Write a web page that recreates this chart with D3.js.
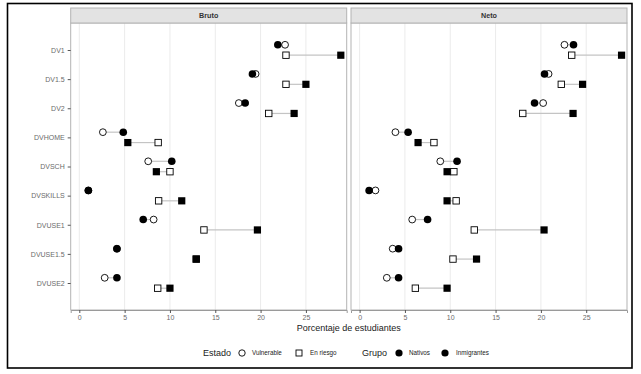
<!DOCTYPE html>
<html lang="es">
<head>
<meta charset="utf-8"/>
<script src="https://d3js.org/d3.v7.min.js"></script>
<style>
  body { margin: 0; background: white; }
  svg { font-family: "Liberation Sans", Arial, sans-serif; }
  .grid { stroke: #ebebeb; stroke-width: 1; }
  .frame { fill: none; stroke: #b3b3b3; stroke-width: 1; }
  .seg { stroke: #c4c4c4; stroke-width: 1.2; }
  .tick-lab { fill: #6b6b6b; font-size: 7px; }
</style>
</head>
<body>
<svg id="chart" width="641" height="374"></svg>
<script>
// categories (top to bottom)
const categories = ["DV1", "DV1.5", "DV2", "DVHOME", "DVSCH", "DVSKILLS", "DVUSE1", "DVUSE1.5", "DVUSE2"];
const panels = ["Bruto", "Neto"];
const xTicks = [0, 5, 10, 15, 20, 25];

// Bruto
const brutoVulnNativos   = [22.7, 19.45, 17.6, 2.6, 7.6, 1.0, 8.2, 4.15, 2.8];
const brutoVulnInmig     = [21.9, 19.1, 18.3, 4.85, 10.2, 1.0, 7.05, 4.15, 4.15];
const brutoRiesgoNativos = [22.8, 22.8, 20.9, 8.7, 10.0, 8.75, 13.75, 12.9, 8.65];
const brutoRiesgoInmig   = [28.85, 25.0, 23.7, 5.35, 8.5, 11.3, 19.65, 12.9, 10.0];

// Neto
const netoVulnNativos   = [22.6, 20.85, 20.25, 3.95, 8.9, 1.75, 5.8, 3.65, 3.0];
const netoVulnInmig     = [23.6, 20.4, 19.3, 5.35, 10.75, 1.05, 7.5, 4.3, 4.3];
const netoRiesgoNativos = [23.4, 22.25, 18.0, 8.2, 10.4, 10.65, 12.65, 10.3, 6.15];
const netoRiesgoInmig   = [28.9, 24.6, 23.55, 6.45, 9.65, 9.65, 20.35, 12.9, 9.65];

const panelData = {
  Bruto: { vn: brutoVulnNativos, vi: brutoVulnInmig, rn: brutoRiesgoNativos, ri: brutoRiesgoInmig },
  Neto:  { vn: netoVulnNativos,  vi: netoVulnInmig,  rn: netoRiesgoNativos,  ri: netoRiesgoInmig }
};

const svg = d3.select("#chart");

// outer black frame
svg.append("rect")
  .attr("x", 7.5).attr("y", 3.5)
  .attr("width", 624.5).attr("height", 364.5)
  .attr("fill", "white").attr("stroke", "black").attr("stroke-width", 1.6);

const panelTop = 23, panelBottom = 310;
const stripTop = 8;
const panelX = { Bruto: [70.7, 346.7], Neto: [351, 627] };

const y = d3.scalePoint().domain(categories).range([50, 283]);
const dy = 5.2;
const r = 3.4, sq = 6.4;

panels.forEach(function(p) {
  const x = d3.scaleLinear().domain([-0.95, 29.5]).range(panelX[p]);
  const g = svg.append("g");
  const d = panelData[p];

  // grid
  g.selectAll(".grid").data(xTicks).enter().append("line")
    .attr("class", "grid")
    .attr("x1", t => x(t)).attr("x2", t => x(t))
    .attr("y1", panelTop).attr("y2", panelBottom);

  // panel border
  g.append("rect").attr("class", "frame")
    .attr("x", panelX[p][0]).attr("y", panelTop)
    .attr("width", panelX[p][1] - panelX[p][0]).attr("height", panelBottom - panelTop);

  // strip
  g.append("rect")
    .attr("x", panelX[p][0]).attr("y", stripTop)
    .attr("width", panelX[p][1] - panelX[p][0]).attr("height", panelTop - stripTop)
    .attr("fill", "#e3e3e3").attr("stroke", "#b3b3b3");
  g.append("text")
    .attr("x", (panelX[p][0] + panelX[p][1]) / 2).attr("y", (stripTop + panelTop) / 2 + 2.5)
    .attr("text-anchor", "middle").attr("font-size", 7.2).attr("font-weight", "bold")
    .attr("fill", "#333").text(p);

  // x axis
  const xAxis = g.append("g").attr("transform", "translate(0," + panelBottom + ")")
    .call(d3.axisBottom(x).tickValues(xTicks).tickSize(3).tickPadding(2));
  xAxis.select(".domain").attr("stroke", "#9a9a9a");
  xAxis.selectAll(".tick line").attr("stroke", "#555");
  xAxis.selectAll(".tick text").attr("class", "tick-lab").attr("font-family", null).attr("font-size", null);

  // segments
  g.selectAll(".segc").data(categories).enter().append("line")
    .attr("class", "seg")
    .attr("x1", (c, i) => x(d.vn[i])).attr("x2", (c, i) => x(d.vi[i]))
    .attr("y1", c => y(c) - dy).attr("y2", c => y(c) - dy);
  g.selectAll(".segs").data(categories).enter().append("line")
    .attr("class", "seg")
    .attr("x1", (c, i) => x(d.rn[i])).attr("x2", (c, i) => x(d.ri[i]))
    .attr("y1", c => y(c) + dy).attr("y2", c => y(c) + dy);

  // open points (Nativos)
  g.selectAll(".oc").data(categories).enter().append("circle")
    .attr("cx", (c, i) => x(d.vn[i])).attr("cy", c => y(c) - dy).attr("r", r)
    .attr("fill", "white").attr("stroke", "black").attr("stroke-width", 0.9);
  g.selectAll(".os").data(categories).enter().append("rect")
    .attr("x", (c, i) => x(d.rn[i]) - sq / 2).attr("y", c => y(c) + dy - sq / 2)
    .attr("width", sq).attr("height", sq)
    .attr("fill", "white").attr("stroke", "black").attr("stroke-width", 0.9);

  // filled points (Inmigrantes)
  g.selectAll(".fc").data(categories).enter().append("circle")
    .attr("cx", (c, i) => x(d.vi[i])).attr("cy", c => y(c) - dy).attr("r", r + 0.4)
    .attr("fill", "black");
  g.selectAll(".fs").data(categories).enter().append("rect")
    .attr("x", (c, i) => x(d.ri[i]) - sq / 2 - 0.4).attr("y", c => y(c) + dy - sq / 2 - 0.4)
    .attr("width", sq + 0.8).attr("height", sq + 0.8)
    .attr("fill", "black");
});

// y axis on left panel
const yAxis = svg.append("g").attr("transform", "translate(" + panelX.Bruto[0] + ",0)")
  .call(d3.axisLeft(y).tickSize(3).tickPadding(3));
yAxis.select(".domain").remove();
yAxis.selectAll(".tick line").attr("stroke", "#555");
yAxis.selectAll(".tick text").attr("class", "tick-lab").attr("font-family", null).attr("font-size", null);

// x title
svg.append("text")
  .attr("x", (panelX.Bruto[0] + panelX.Neto[1]) / 2).attr("y", 331)
  .attr("text-anchor", "middle").attr("font-size", 9).attr("fill", "#1a1a1a")
  .text("Porcentaje de estudiantes");

// legend
const legY = 353;
const leg = svg.append("g");
leg.append("text").attr("x", 203).attr("y", legY + 3.3).attr("font-size", 9).attr("fill", "#1a1a1a").text("Estado");
leg.append("circle").attr("cx", 242).attr("cy", legY).attr("r", 3.2)
  .attr("fill", "white").attr("stroke", "black").attr("stroke-width", 0.9);
leg.append("text").attr("x", 252).attr("y", legY + 2.3).attr("font-size", 6.3).attr("fill", "#1a1a1a").text("Vulnerable");
leg.append("rect").attr("x", 296).attr("y", legY - 3).attr("width", 6).attr("height", 6)
  .attr("fill", "white").attr("stroke", "black").attr("stroke-width", 0.9);
leg.append("text").attr("x", 310).attr("y", legY + 2.3).attr("font-size", 6.3).attr("fill", "#1a1a1a").text("En riesgo");
leg.append("text").attr("x", 362).attr("y", legY + 3.3).attr("font-size", 9).attr("fill", "#1a1a1a").text("Grupo");
leg.append("circle").attr("cx", 399).attr("cy", legY).attr("r", 3.6).attr("fill", "black");
leg.append("text").attr("x", 409).attr("y", legY + 2.3).attr("font-size", 6.3).attr("fill", "#1a1a1a").text("Nativos");
leg.append("circle").attr("cx", 445).attr("cy", legY).attr("r", 3.6).attr("fill", "black");
leg.append("text").attr("x", 456).attr("y", legY + 2.3).attr("font-size", 6.3).attr("fill", "#1a1a1a").text("Inmigrantes");
</script>
</body>
</html>
